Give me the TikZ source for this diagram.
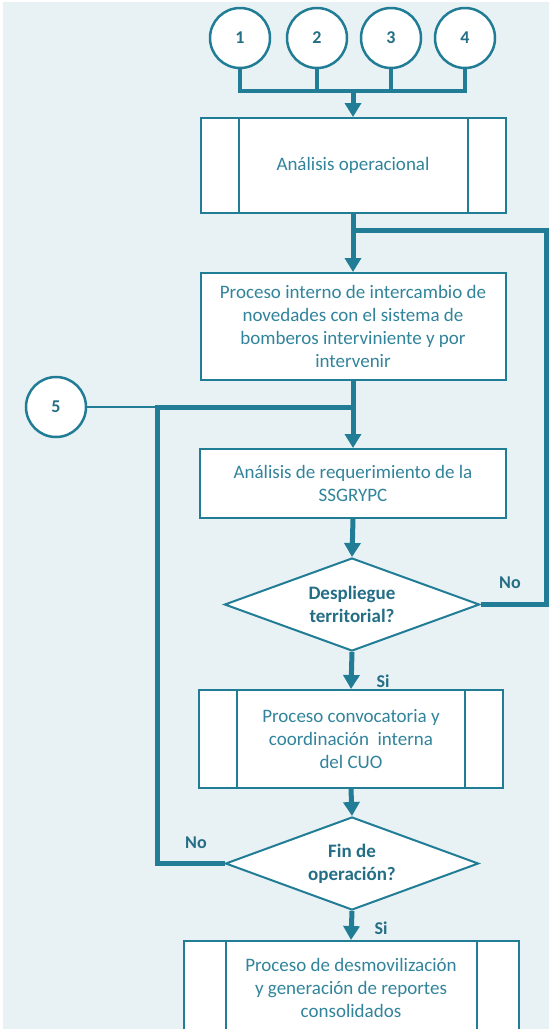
\documentclass[tikz,border=0pt]{standalone}
\usepackage{fontspec}
\setmainfont{Carlito}
\usetikzlibrary{arrows.meta,shapes.geometric}
\definecolor{flowteal}{HTML}{217D96}
\definecolor{textteal}{HTML}{31849B}
\definecolor{labelteal}{HTML}{246E86}
\definecolor{paneblue}{HTML}{E8F1F4}

\begin{document}
\begin{tikzpicture}[
    x=1pt, y=-1pt,
    box/.style={draw=flowteal, line width=2pt, fill=white, text=textteal, align=center, inner sep=0pt, font=\fontsize{19}{23}\selectfont},
    subbox/.style={box, path picture={
        \draw[flowteal, line width=2pt] ([xshift=#1]path picture bounding box.north west) -- ([xshift=#1]path picture bounding box.south west);
        \draw[flowteal, line width=2pt] ([xshift=-#1]path picture bounding box.north east) -- ([xshift=-#1]path picture bounding box.south east);}},
    decision/.style={diamond, aspect=2.7, draw=flowteal, line width=2pt, fill=white, text=labelteal, align=center, inner sep=0pt, font=\bfseries\fontsize{19}{23}\selectfont},
    conn/.style={circle, draw=flowteal, line width=2.5pt, fill=white, minimum size=60pt, inner sep=0pt, text=labelteal, font=\bfseries\fontsize{18}{20}\selectfont},
    flow/.style={draw=flowteal, line width=5pt, -{Triangle[length=14pt, width=16pt]}},
    link/.style={draw=flowteal, line width=4pt},
    thinlink/.style={draw=flowteal, line width=2pt},
    lbl/.style={text=labelteal, font=\bfseries\fontsize{18}{20}\selectfont}
  ]

  % Page and pane
  \useasboundingbox (0,0) rectangle (549,1029);
  \fill[white] (0,0) rectangle (549,1029);
  \fill[paneblue] (3,2) rectangle (549,1029);

  % Incoming connectors
  \node[conn] (c1) at (240,38) {1};
  \node[conn] (c2) at (317,38) {2};
  \node[conn] (c3) at (391,38) {3};
  \node[conn] (c4) at (465,38) {4};
  \node[conn] (c5) at (56,407) {5};

  % Process boxes
  \node[subbox=38pt, minimum width=305pt, minimum height=95pt] (a1) at (353,165.5) {Análisis operacional};
  \node[box, minimum width=305pt, minimum height=107pt] (p2) at (353,326.5) {Proceso interno de intercambio de\\novedades con el sistema de\\bomberos interviniente y por\\intervenir};
  \node[box, minimum width=306pt, minimum height=69pt] (p3) at (353,483.5) {Análisis de requerimiento de la\\SSGRYPC};
  \node[decision, minimum width=255pt, minimum height=93pt] (d1) at (352,604.5) {Despliegue\\territorial?};
  \node[subbox=38pt, minimum width=304pt, minimum height=98pt] (p4) at (351,739) {Proceso convocatoria y\\coordinación\ \ interna\\del CUO};
  \node[decision, minimum width=253pt, minimum height=93pt] (d2) at (352,863.5) {Fin de\\operación?};
  \node[subbox=42pt, minimum width=335pt, minimum height=94pt] (p5) at (351,988) {Proceso de desmovilización\\y generación de reportes\\consolidados};

  % Junction points
  \coordinate (bus) at (353,91);
  \coordinate (j1) at (353,230);
  \coordinate (rgt) at (546,230);
  \coordinate (j2) at (353,407);
  \coordinate (lft) at (157,407);

  % Connectors 1-4 into the first box
  \draw[link] (c1.south) -- (c1.south |- bus) -- (c4.south |- bus) -- (c4.south);
  \draw[link] (c2.south) -- (c2.south |- bus);
  \draw[link] (c3.south) -- (c3.south |- bus);
  \draw[flow] (bus) -- (a1.north);

  % Main flow
  \draw[flow, -] (a1.south) -- (j1);
  \draw[flow] (j1) -- (p2.north);
  \draw[flow, -] (p2.south) -- (j2);
  \draw[flow] (j2) -- (p3.north);
  \draw[flow] (p3.south) -- (d1.north);
  \draw[flow] (d1.south) -- (p4.north);
  \draw[flow] (p4.south) -- (d2.north);
  \draw[flow] (d2.south) -- (p5.north);

  % Loops back
  \draw[flow, -] (d1.east) -| (rgt) -- (j1);
  \draw[thinlink] (c5.east) -- (lft);
  \draw[flow, -] (d2.west) -| (lft) -- (j2);

  % Branch labels
  \node[lbl] (no1) at (510,583) {No};
  \node[lbl] (si1) at (383,681) {Si};
  \node[lbl] (no2) at (196,843) {No};
  \node[lbl] (si2) at (381,928) {Si};

\end{tikzpicture}
\end{document}
